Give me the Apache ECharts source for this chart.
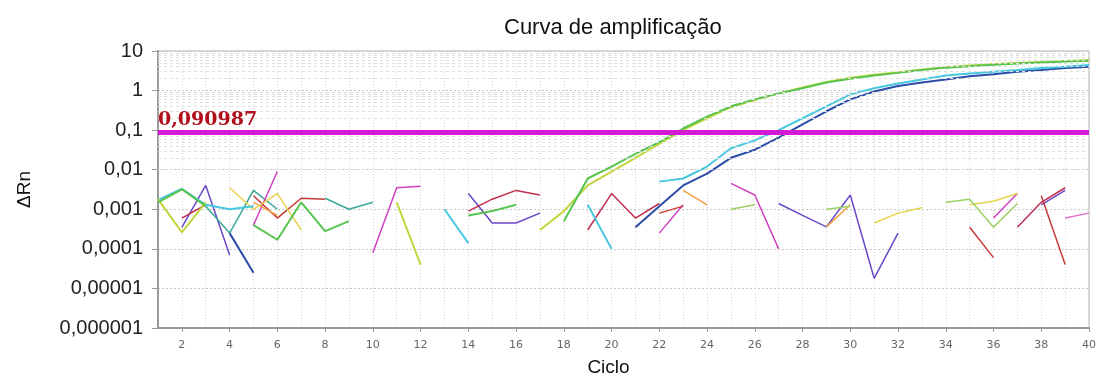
<!DOCTYPE html>
<html>
<head>
<meta charset="utf-8">
<script src="https://cdn.jsdelivr.net/npm/echarts@6/dist/echarts.min.js"></script>
<style>
  html, body { margin: 0; padding: 0; background: #fff; }
  #curva { width: 1099px; height: 385px; }
</style>
</head>
<body>
<div id="curva"></div>
<script>
// Curva de amplificação (qPCR, ΔRn vs ciclo, escala log)
const cycles = ['1','2','3','4','5','6','7','8','9','10','11','12','13','14','15','16','17','18','19','20',
  '21','22','23','24','25','26','27','28','29','30','31','32','33','34','35','36','37','38','39','40'];

const yTickLabels = ['0,000001', '0,00001', '0,0001', '0,001', '0,01', '0,1', '1', '10'];
const threshold = 0.090987;

// amostras que amplificam
const green = [0.0015, 0.0032, 0.0012, null, 0.0004, 0.00017, 0.0015, 0.00028, 0.0005, null,
  null, null, null, 0.0007, 0.0009, 0.0013, null, 0.0005, 0.006, 0.012,
  0.025, 0.05, 0.11, 0.22, 0.4, 0.6, 0.85, 1.15, 1.6, 2.0,
  2.4, 2.8, 3.3, 3.8, 4.1, 4.5, 4.8, 5.1, 5.4, 5.7];
const yellowGreen = [0.0018, 0.00026, 0.0015, null, null, null, null, null, null, null,
  0.0015, 0.00004, null, null, null, null, 0.0003, 0.0009, 0.004, 0.009,
  0.02, 0.045, 0.1, 0.2, 0.38, 0.58, 0.85, 1.2, 1.65, 2.1,
  2.5, 2.9, 3.4, 3.9, 4.3, 4.7, 5.0, 5.3, 5.6, 5.9];
const cyan = [0.0017, 0.0033, 0.0013, 0.001, 0.0012, null, null, null, null, null,
  null, null, 0.001, 0.00014, null, null, null, null, 0.0013, 0.0001,
  null, 0.005, 0.006, 0.012, 0.035, 0.055, 0.1, 0.2, 0.4, 0.8,
  1.15, 1.5, 1.9, 2.4, 2.7, 3.0, 3.3, 3.7, 4.0, 4.4];
const darkBlue = [null, null, null, 0.00025, 0.000025, null, null, null, null, null,
  null, null, null, null, null, null, null, null, null, null,
  0.00035, 0.0012, 0.004, 0.008, 0.02, 0.032, 0.065, 0.14, 0.3, 0.6,
  0.95, 1.3, 1.6, 1.9, 2.3, 2.6, 3.0, 3.3, 3.7, 4.0];

// amostras sem amplificação (ruído)
const purple = [null, 0.00035, 0.004, 0.00007, null, null, null, null, null, null,
  null, null, null, 0.0025, 0.00045, 0.00045, 0.0008, null, null, null,
  null, null, null, null, null, null, 0.0014, 0.0007, 0.00036, 0.0023,
  0.000018, 0.00025, null, null, null, null, null, 0.0013, 0.003, null];
const teal = [null, null, 0.0012, 0.00025, 0.003, 0.001, null, 0.0019, 0.001, 0.0015,
  null, null, null, null, null, null, null, null, null, null,
  null, null, null, null, null, null, null, null, null, null,
  null, null, null, null, null, null, null, null, null, null];
const magenta = [null, null, null, null, 0.0004, 0.009, null, null, null, 0.00008,
  0.0035, 0.0038, null, null, null, null, null, null, null, null,
  null, 0.00025, 0.0013, null, 0.0045, 0.0023, 0.0001, null, null, null,
  null, null, null, null, null, 0.0006, 0.0025, null, null, null];
const crimson = [null, 0.0006, 0.0013, null, null, null, null, null, null, null,
  null, null, null, 0.0009, 0.0018, 0.003, 0.0023, null, 0.0003, 0.0025,
  0.0006, 0.0014, null, null, null, null, null, null, null, null,
  null, null, null, null, null, null, 0.00035, 0.0015, 0.0035, null];
const red = [null, null, null, null, 0.0022, 0.0006, 0.0019, 0.0018, null, null,
  null, null, null, null, null, null, null, null, null, null,
  null, 0.0008, 0.0012, null, null, null, null, null, null, null,
  null, null, null, null, 0.00035, 0.00006, null, 0.0022, 0.00004, null];
const orange = [null, null, null, null, 0.0015, 0.0007, null, null, null, null,
  null, null, null, null, null, null, null, null, null, null,
  null, null, 0.003, 0.0013, null, null, null, null, 0.00036, 0.0013,
  null, null, null, null, null, null, null, null, null, null];
const yellow = [null, null, null, 0.0035, 0.001, 0.0025, 0.0003, null, null, null,
  null, null, null, null, null, null, null, null, null, null,
  null, null, null, null, null, null, null, null, null, null,
  0.00045, 0.0008, 0.0011, null, 0.0013, 0.0016, 0.0025, null, null, null];
const lightGreen = [null, null, null, null, null, null, null, null, null, null,
  null, null, null, null, null, null, null, null, null, null,
  null, null, null, null, 0.001, 0.0013, null, null, 0.001, 0.0012,
  null, null, null, 0.0015, 0.0018, 0.00035, 0.0014, null, null, null];
const pink = [null, null, null, null, null, null, null, null, null, null,
  null, null, null, null, null, null, null, null, null, null,
  null, null, null, null, null, null, null, null, null, null,
  null, null, null, null, null, null, null, null, 0.0006, 0.0008];

(function() {
  // linhas secundárias da grade logarítmica (2..9 x 10^k)
  const minorLines = [];
  for (let k = -6; k < 1; k++) {
    for (let m = 2; m < 10; m++) {
      minorLines.push({ yAxis: m * Math.pow(10, k) });
    }
  }

  const noise = (name, data, color) => ({
    name: name,
    type: "line",
    data: data,
    symbol: "none",
    connectNulls: false,
    z: 3,
    lineStyle: { color: color, width: 1.5 }
  });
  const amp = (name, data, color) => ({
    name: name,
    type: "line",
    data: data,
    symbol: "none",
    connectNulls: false,
    z: 4,
    lineStyle: { color: color, width: 2 }
  });

  const option = {
    animation: false,
    backgroundColor: "#fff",
    title: {
      text: "Curva de amplificação",
      left: 499,
      top: 12,
      textStyle: {
        fontFamily: "Liberation Sans",
        fontSize: 22,
        fontWeight: "normal",
        color: "#111"
      }
    },
    grid: {
      left: 158,
      right: 3,
      top: 51,
      bottom: 57,
      show: true,
      borderColor: "#b0b0b0",
      borderWidth: 1
    },
    xAxis: {
      type: "category",
      data: cycles,
      boundaryGap: false,
      name: "Ciclo",
      nameLocation: "middle",
      nameGap: 30,
      nameTextStyle: {
        fontFamily: "Liberation Sans",
        fontSize: 19,
        color: "#111",
        padding: [0, 30, 0, 0]
      },
      axisLine: { lineStyle: { color: "#9a9a9a", width: 2 } },
      axisTick: {
        show: true,
        length: 4,
        interval: (i, v) => Number(v) % 2 === 0,
        lineStyle: { color: "#9a9a9a" }
      },
      axisLabel: {
        interval: (i, v) => Number(v) % 2 === 0,
        margin: 12,
        fontFamily: "DejaVu Sans",
        fontSize: 11,
        color: "#666"
      },
      splitLine: {
        show: true,
        interval: 0,
        lineStyle: { color: "#d6d6d6", type: [1, 2], width: 1 }
      }
    },
    yAxis: {
      type: "log",
      logBase: 10,
      min: 0.000001,
      max: 10,
      name: "ΔRn",
      nameLocation: "middle",
      nameGap: 124,
      nameTextStyle: {
        fontFamily: "Liberation Sans",
        fontSize: 19,
        color: "#111"
      },
      axisLine: { show: true, lineStyle: { color: "#9a9a9a", width: 2 } },
      axisTick: { show: true, length: 6, lineStyle: { color: "#9a9a9a" } },
      axisLabel: {
        margin: 15,
        fontFamily: "Liberation Sans",
        fontSize: 20,
        color: "#222",
        formatter: (v) => yTickLabels[Math.round(Math.log10(v)) + 6]
      },
      splitLine: {
        show: true,
        lineStyle: { color: "#c8c8c8", type: [2, 2], width: 1 }
      }
    },
    series: [
      {
        name: "grade",
        type: "line",
        data: [],
        z: 1,
        silent: true,
        markLine: {
          silent: true,
          symbol: "none",
          label: { show: false },
          lineStyle: { color: "#dedede", type: [3, 3], width: 1 },
          data: minorLines
        }
      },
      noise("purple", purple, "#6a48c8"),
      noise("teal", teal, "#3aa89a"),
      noise("magenta", magenta, "#d040c0"),
      noise("crimson", crimson, "#c0304f"),
      noise("red", red, "#c83a3a"),
      noise("orange", orange, "#f0a040"),
      noise("yellow", yellow, "#e6d44c"),
      noise("lightGreen", lightGreen, "#9ad060"),
      noise("pink", pink, "#e070c8"),
      amp("darkBlue", darkBlue, "#2c4ea8"),
      amp("cyan", cyan, "#48c8e0"),
      amp("yellowGreen", yellowGreen, "#c2d640"),
      amp("green", green, "#58c450"),
      {
        name: "threshold",
        type: "line",
        data: [],
        z: 10,
        markLine: {
          silent: true,
          symbol: "none",
          lineStyle: { color: "#d41ad4", type: "solid", width: 5 },
          label: {
            show: true,
            position: "insideStartTop",
            distance: [0, 2],
            formatter: String(threshold).replace(".", ","),
            fontFamily: "DejaVu Serif",
            fontWeight: "bold",
            fontSize: 19,
            color: "#b0101c"
          },
          data: [{ yAxis: threshold }]
        }
      }
    ]
  };

  const chart = echarts.init(document.getElementById("curva"));
  chart.setOption(option);
  window.addEventListener("resize", () => chart.resize());
})();
</script>
</body>
</html>
